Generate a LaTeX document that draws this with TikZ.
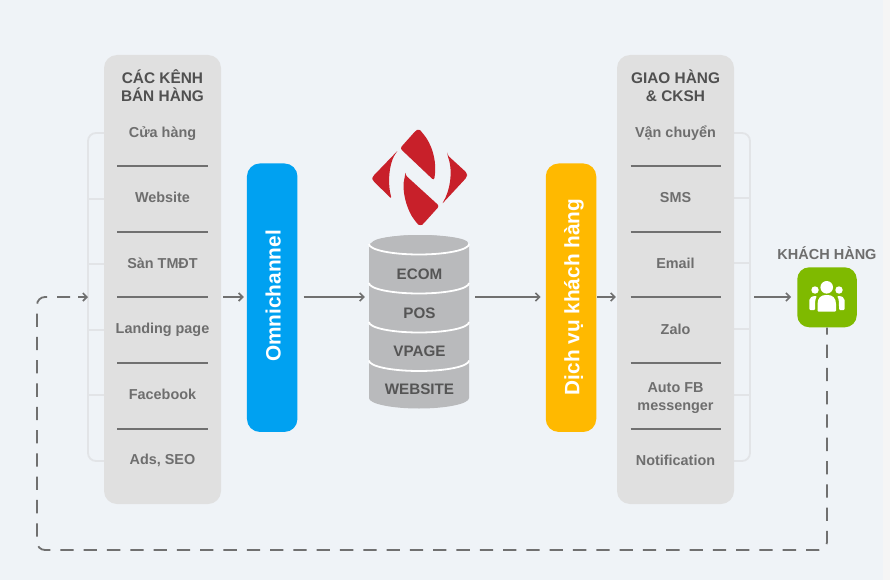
\documentclass[tikz,border=0pt]{standalone}
\usepackage{fontspec}
\setmainfont{Liberation Sans}
\usetikzlibrary{arrows.meta,calc}
\definecolor{bgc}{HTML}{EFF3F7}
\definecolor{stripc}{HTML}{F5F5F5}
\definecolor{panelc}{HTML}{E0E0E0}
\definecolor{sepc}{HTML}{707070}
\definecolor{txtc}{HTML}{6E6E6E}
\definecolor{headc}{HTML}{505050}
\definecolor{brc}{HTML}{E2E4E7}
\definecolor{omnic}{HTML}{00A1F1}
\definecolor{dvc}{HTML}{FFB900}
\definecolor{grc}{HTML}{7FBA00}
\definecolor{dbc}{HTML}{B9BABC}
\definecolor{dbt}{HTML}{555555}
\definecolor{redc}{HTML}{C8202A}
\tikzset{
  panel/.style={fill=panelc,rounded corners=13pt,minimum width=117pt,minimum height=449pt,inner sep=0pt},
  bar/.style={rounded corners=13pt,minimum width=50.5pt,minimum height=268.5pt,inner sep=0pt},
  bartext/.style={text=white,font=\bfseries\fontsize{20.8}{24}\selectfont,rotate=90,anchor=base,inner sep=0pt},
  head/.style={text=headc,font=\bfseries\fontsize{15.4}{19}\selectfont,anchor=base,inner sep=0pt},
  item/.style={text=txtc,font=\bfseries\fontsize{14.4}{17}\selectfont,anchor=base,inner sep=0pt},
  dbtext/.style={text=dbt,font=\bfseries\fontsize{15.2}{18}\selectfont,anchor=base,inner sep=0pt},
  sep/.style={draw=sepc,line width=2pt},
  bracket/.style={draw=brc,line width=1.8pt},
  flow/.style={draw=sepc,line width=1.8pt,-{Straight Barb[length=4pt,width=8pt,line width=1.6pt]}},
  back/.style={draw=sepc,line width=1.8pt,dash pattern=on 13.3pt off 10pt,dash phase=6.3pt,rounded corners=8pt}
}
\begin{document}
\begin{tikzpicture}[x=1pt,y=-1pt]
\useasboundingbox (0,0) rectangle (890,580);
\fill[bgc] (0,0) rectangle (890,580);
\fill[stripc] (883,0) rectangle (890,580);
\coordinate (row) at (0,297);
\coordinate (bk) at (0,550);
\coordinate (bl) at (37,0);

% light brackets
\draw[bracket,rounded corners=8pt] (110,133) -- (88,133) -- (88,461) -- (110,461);
\foreach \yy in {199,264,330,395} \draw[bracket] (88,\yy) -- (110,\yy);
\draw[bracket,rounded corners=8pt] (728,133) -- (750,133) -- (750,461) -- (728,461);
\foreach \yy in {198,263,329,395} \draw[bracket] (728,\yy) -- (750,\yy);

% panels
\node[panel] (left) at (162.5,279.5) {};
\node[panel] (right) at (675.5,279.5) {};
\foreach \yy in {166,232,297,363,429} {
  \draw[sep] (117,\yy) -- (207.5,\yy);
  \draw[sep] (630.5,\yy) -- (721,\yy);
}
\node[head] (lh1) at (162.5,83.2) {CÁC KÊNH};
\node[head] (lh2) at (162.5,102) {BÁN HÀNG};
\node[item] (l1) at (162.5,137.2) {Cửa hàng};
\node[item] (l2) at (162.5,202.7) {Website};
\node[item] (l3) at (162.5,268.2) {Sàn TMĐT};
\node[item] (l4) at (162.5,333.3) {Landing page};
\node[item] (l5) at (162.5,399) {Facebook};
\node[item] (l6) at (162.5,464.3) {Ads, SEO};
\node[head] (rh1) at (675.5,83.2) {GIAO HÀNG};
\node[head] (rh2) at (675.5,102) {\& CKSH};
\node[item] (r1) at (675.5,137.2) {Vận chuyển};
\node[item] (r2) at (675.5,202.7) {SMS};
\node[item] (r3) at (675.5,268.3) {Email};
\node[item] (r4) at (675.5,334.3) {Zalo};
\node[item] (r5) at (675.5,392.3) {Auto FB};
\node[item] (r5b) at (675.5,410) {messenger};
\node[item] (r6) at (675.5,465.7) {Notification};

% bars
\node[bar,fill=omnic] (omni) at (272.2,297.7) {};
\node[bartext] (omnit) at (280.7,296) {Omnichannel};
\node[bar,fill=dvc] (dv) at (571,297.7) {};
\node[bartext] (dvt) at (579.3,297) {Dịch vụ khách hàng};

% logo
\fill[redc,rounded corners=2.5pt] (400,148.3) -- (415,131.5) .. controls (417.5,129.5) and (420,129.8) .. (422,132.5) .. controls (431,143) and (437.5,160) .. (434,180.5) -- cycle;
\fill[redc,rounded corners=2.5pt] (405.3,175) -- (439.3,206) -- (424,223) .. controls (421.5,225.5) and (418.5,225) .. (416.5,222.5) .. controls (407,211) and (401,190) .. cycle;
\fill[redc,rounded corners=2.5pt] (398.3,150) .. controls (388.5,162) and (387.5,184) .. (391.7,199) -- (372.3,180) -- (372.3,177) -- cycle;
\fill[redc,rounded corners=2.5pt] (447.3,155) -- (467,173) -- (467,177) -- (441.7,204.3) .. controls (449.5,192) and (453.5,172) .. cycle;

% database
\node[minimum width=100pt,minimum height=173pt,inner sep=0pt] (db) at (419,321.5) {};
\fill[dbc] (369,246) -- (369,398) arc[start angle=180,end angle=0,x radius=50,y radius=10.5] -- (469,246) arc[start angle=0,end angle=-180,x radius=50,y radius=11] -- cycle;
\foreach \yy in {244,283,322,360.5}
  \draw[white,line width=1.8pt] (369,\yy) arc[start angle=180,end angle=0,x radius=50,y radius=10.5];
\fill[dbc] (372,243) arc[start angle=180,end angle=360,x radius=48,y radius=8] arc[start angle=0,end angle=180,x radius=48,y radius=9.5] -- cycle;
\node[dbtext] (d1) at (419.5,279.7) {ECOM};
\node[dbtext] (d2) at (419.5,318) {POS};
\node[dbtext] (d3) at (419.5,356.5) {VPAGE};
\node[dbtext] (d4) at (419.5,394.7) {WEBSITE};

% customer
\node[text=txtc,font=\bfseries\fontsize{14.5}{17}\selectfont,inner sep=0pt,anchor=base] (kh) at (827,259) {KHÁCH HÀNG};
\node[fill=grc,rounded corners=12pt,minimum width=59.5pt,minimum height=60pt,inner sep=0pt] (cust) at (827,297.3) {};
\fill[white] (826.7,287.3) circle[radius=6.3];
\fill[white] (815,290) circle[radius=3.7];
\fill[white] (839,290) circle[radius=3.7];
\fill[white,rounded corners=1pt] (817.5,311.7) -- (817.5,305) .. controls (817.5,298) and (821,295) .. (826.7,295) .. controls (832.5,295) and (836,298) .. (836,305) -- (836,311.7) -- cycle;
\fill[white,rounded corners=1pt] (809.3,310) -- (809.3,301) .. controls (809.3,297.5) and (812,296) .. (817,296) .. controls (815,299) and (815,303) .. (815,310) -- cycle;
\fill[white,rounded corners=1pt] (844.5,310) -- (844.5,301) .. controls (844.5,297.5) and (842,296) .. (837,296) .. controls (839,299) and (839,303) .. (839,310) -- cycle;

% connectors
\draw[flow,shorten <=2pt,shorten >=3pt] (left.east |- row) -- (omni.west |- row);
\draw[flow,shorten <=6pt,shorten >=4pt] (omni.east |- row) -- (db.west |- row);
\draw[flow,shorten <=6pt,shorten >=5pt] (db.east |- row) -- (dv.west |- row);
\draw[flow,shorten <=1pt,shorten >=1pt] (dv.east |- row) -- (right.west |- row);
\draw[flow,shorten <=20pt,shorten >=6pt] (right.east |- row) -- (cust.west |- row);
\draw[back] (cust.south) -- (cust.south |- bk) -- (bl |- bk) -- (bl |- row) -- (70,297);
\draw[flow] (78,297) -- (88,297);
\end{tikzpicture}
\end{document}
